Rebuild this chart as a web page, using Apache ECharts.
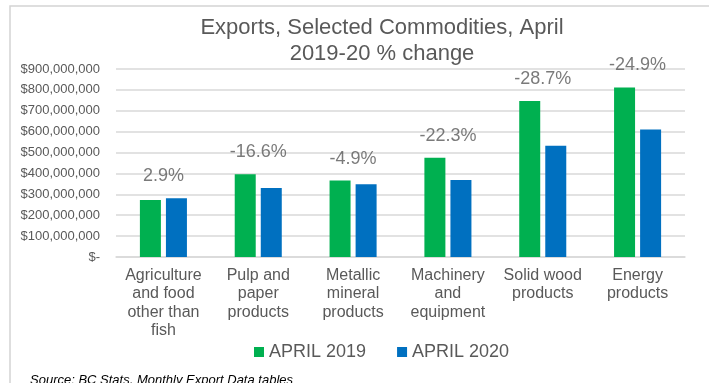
<!DOCTYPE html>
<html lang="en">
<head>
    <meta charset="utf-8"/>
    <title>Exports, Selected Commodities, April</title>
    <script type="text/javascript" src="https://cdn.jsdelivr.net/npm/echarts@6/dist/echarts.min.js"></script>
    <style>
        html, body { margin: 0; padding: 0; background: #fff; }
        #container { width: 709px; height: 383px; }
    </style>
</head>
<body>
<div id="container"></div>
<script type="text/javascript">
    // categories and values (dollars)
    var categories = ['Agriculture\nand food\nother than\nfish', 'Pulp and\npaper\nproducts', 'Metallic\nmineral\nproducts',
        'Machinery\nand\nequipment', 'Solid wood\nproducts', 'Energy\nproducts'];
    var april2019 = [273000000, 396000000, 366000000, 475000000, 747000000, 812000000];
    var april2020 = [281000000, 330000000, 348000000, 369000000, 533000000, 610000000];
    var pctLabels = ['2.9%', '-16.6%', '-4.9%', '-22.3%', '-28.7%', '-24.9%'];
    var yMax = 900000000;
    var yStep = 100000000;

    var FONT = '"Liberation Sans", Arial, sans-serif';
    var GREY = '#595959';

    // label anchor = top of the taller bar in each group
    var labelAnchor = [];
    for (var i = 0; i < categories.length; i++) {
        labelAnchor.push(Math.max(april2019[i], april2020[i]));
    }

    var myChart = echarts.init(document.getElementById('container'));
    var option = {
        animation: false,
        textStyle: { fontFamily: FONT },
        graphic: [
            {
                type: 'rect',
                shape: { x: 10, y: 6, width: 800, height: 500 },
                style: { fill: 'none', stroke: '#d4d4d4', lineWidth: 1.5 },
                silent: true
            },
            {
                type: 'text',
                x: 382, y: 15,
                style: {
                    text: 'Exports, Selected Commodities, April\n2019-20 % change',
                    align: 'center',
                    font: '22px ' + FONT,
                    lineHeight: 26,
                    fill: GREY
                }
            },
            {
                type: 'text',
                x: 30, y: 374,
                style: {
                    text: 'Source: BC Stats, Monthly Export Data tables',
                    font: 'italic 13px ' + FONT,
                    fill: '#000'
                }
            }
        ],
        legend: {
            data: ['APRIL 2019', 'APRIL 2020'],
            left: 254,
            top: 343,
            padding: 0,
            icon: 'rect',
            itemWidth: 10,
            itemHeight: 10,
            itemGap: 31,
            textStyle: { fontSize: 18, color: GREY, fontFamily: FONT }
        },
        grid: {
            left: 116,
            right: 24,
            top: 69,
            bottom: 126
        },
        xAxis: {
            type: 'category',
            data: categories,
            axisTick: { show: false },
            axisLine: { lineStyle: { color: '#d9d9d9', width: 1.5 } },
            axisLabel: {
                interval: 0,
                margin: 9,
                fontSize: 16,
                lineHeight: 18.5,
                color: GREY,
                fontFamily: FONT
            }
        },
        yAxis: {
            type: 'value',
            min: 0,
            max: yMax,
            interval: yStep,
            axisLine: { show: false },
            axisTick: { show: false },
            splitLine: { lineStyle: { color: '#d9d9d9', width: 1.5 } },
            axisLabel: {
                margin: 16,
                fontSize: 13,
                color: GREY,
                fontFamily: FONT,
                formatter: function (v) {
                    return v === 0 ? '$-' : '$' + v.toLocaleString('en-US');
                }
            }
        },
        series: [
            {
                name: 'APRIL 2019',
                type: 'bar',
                data: april2019,
                barWidth: 21,
                barGap: '24%',
                itemStyle: { color: '#00B050' }
            },
            {
                name: 'APRIL 2020',
                type: 'bar',
                data: april2020,
                barWidth: 21,
                itemStyle: { color: '#0070C0' }
            },
            {
                name: 'change',
                type: 'scatter',
                data: labelAnchor,
                symbolSize: 0,
                silent: true,
                label: {
                    show: true,
                    position: 'top',
                    distance: 13,
                    fontSize: 18,
                    color: GREY,
                    fontFamily: FONT,
                    formatter: function (p) { return pctLabels[p.dataIndex]; }
                }
            }
        ]
    };
    myChart.setOption(option, true);
</script>
</body>
</html>
